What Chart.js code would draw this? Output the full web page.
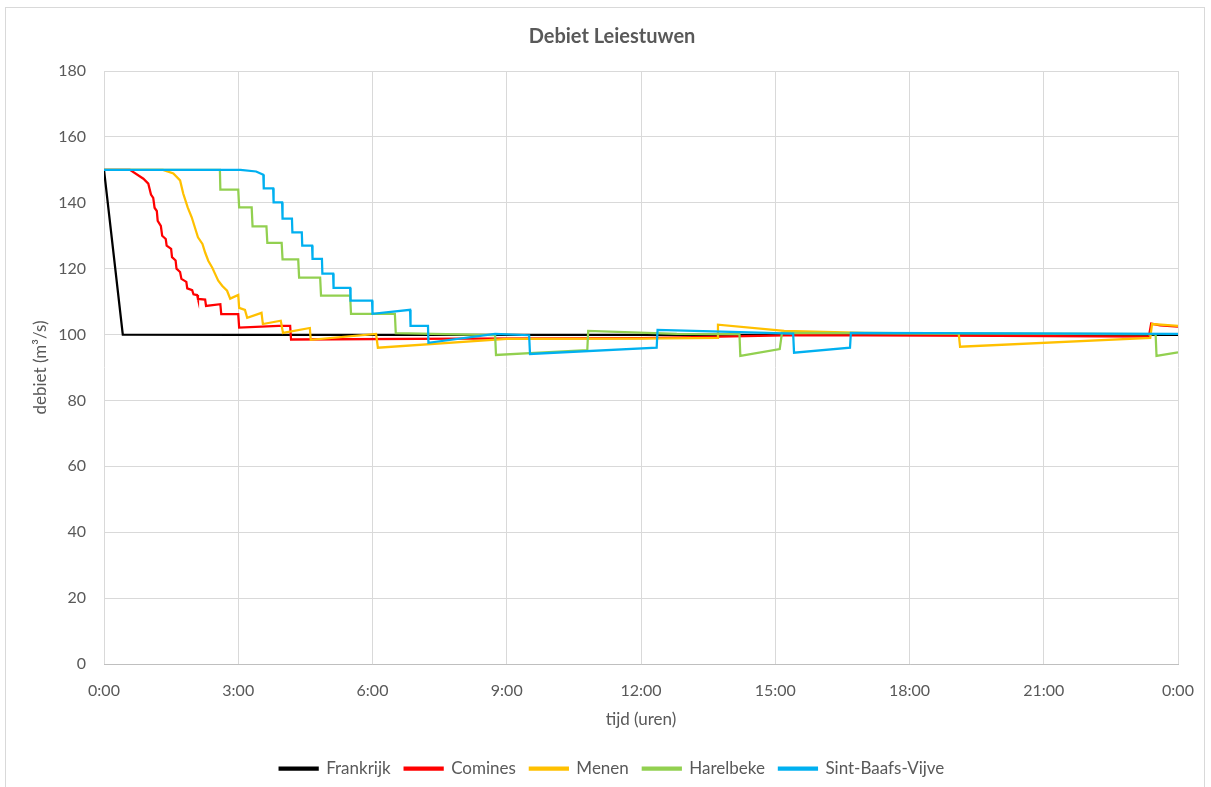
<!DOCTYPE html>
<html>
<head>
<meta charset="utf-8">
<script src="https://cdn.jsdelivr.net/npm/chart.js@4.4.0/dist/chart.umd.min.js"></script>
<style>
  html, body { margin: 0; padding: 0; background: #fff; }
  #kader { position: absolute; left: 5px; top: 7px; width: 1200px; height: 800px; border: 1px solid #d9d9d9; box-sizing: border-box; }
  #wrap { position: absolute; left: 0; top: 0; width: 1211px; height: 787px; }
</style>
</head>
<body>
<div id="kader"></div>
<div id="wrap"><canvas id="grafiek" width="1211" height="787"></canvas></div>
<script>
// tijd in uren, debiet in m3/s
var reeksen = ['Frankrijk', 'Comines', 'Menen', 'Harelbeke', 'Sint-Baafs-Vijve'];
var kleuren = ['#000000', '#ff0000', '#ffc000', '#92d050', '#00b0f0'];

var frankrijkTijd = [0, 0.42, 3, 9, 24];
var frankrijkDebiet = [150, 100, 99.9, 99.9, 99.9];

var cominesTijd = [0, 0.58, 0.88, 0.99, 1.05, 1.1, 1.13, 1.18, 1.2, 1.27, 1.3, 1.38, 1.4, 1.5, 1.52, 1.6, 1.62, 1.7, 1.73, 1.84, 1.86, 1.97, 2.0, 2.08, 2.1, 2.26, 2.28, 2.6, 2.62, 3.0, 3.02, 3.9, 4.16, 4.18, 8, 12, 15.5, 20, 23.35, 23.4, 23.6, 24];
var cominesDebiet = [150, 150, 147.3, 145.8, 142.5, 141.5, 138.5, 137.5, 134.5, 133, 130, 129, 127, 126, 123.5, 122.5, 120, 119, 116.9, 116, 114, 113.5, 112.2, 112, 110.8, 110.6, 108.7, 109.2, 106.2, 106.2, 102.1, 102.6, 102.6, 98.5, 98.8, 98.9, 99.8, 99.6, 99.4, 103.3, 102.8, 102.4];

var menenTijd = [0, 1.32, 1.55, 1.7, 1.77, 1.87, 1.96, 2.1, 2.2, 2.26, 2.33, 2.42, 2.48, 2.55, 2.64, 2.75, 2.82, 3.0, 3.02, 3.15, 3.2, 3.52, 3.55, 3.95, 4.0, 4.6, 4.62, 6.08, 6.12, 9, 12, 13.7, 13.72, 15.2, 17, 19.1, 19.13, 23.38, 23.42, 24];
var menenDebiet = [150, 150, 148.9, 146.8, 142.8, 138.6, 135.6, 129.5, 127.5, 124.9, 122.4, 120.3, 118.5, 116.4, 114.8, 113.3, 110.9, 112, 108.1, 107.5, 105.1, 106.6, 103.2, 104.2, 100.5, 102, 98.4, 100.2, 96, 98.7, 98.8, 99, 103, 101.1, 100.5, 100.3, 96.3, 99, 103.2, 102.6];

var harelbekeTijd = [0, 2.59, 2.6, 3.0, 3.02, 3.3, 3.32, 3.63, 3.65, 3.97, 3.99, 4.34, 4.36, 4.83, 4.85, 5.5, 5.52, 6.5, 6.52, 8.74, 8.76, 10.8, 10.82, 12.8, 14.2, 14.22, 15.1, 15.15, 23.5, 23.52, 24];
var harelbekeDebiet = [150, 150, 144, 144, 138.6, 138.6, 132.8, 132.8, 127.8, 127.8, 122.8, 122.8, 117.3, 117.3, 111.8, 111.8, 106.3, 106.3, 100.4, 99.8, 93.8, 95.3, 101.1, 100.2, 100.1, 93.5, 95.6, 100.5, 100.1, 93.5, 94.6];

var sintBaafsTijd = [0, 3.05, 3.4, 3.56, 3.57, 3.78, 3.79, 3.98, 3.99, 4.2, 4.21, 4.42, 4.43, 4.65, 4.66, 4.87, 4.88, 5.12, 5.13, 5.5, 5.51, 5.99, 6.0, 6.84, 6.85, 7.24, 7.25, 8.74, 9.5, 9.52, 12.35, 12.37, 14, 15.4, 15.42, 16.67, 16.69, 24];
var sintBaafsDebiet = [150, 150, 149.5, 148.5, 144.4, 144.4, 140.1, 140.1, 135.2, 135.2, 131, 131, 127, 127, 123, 123, 118.5, 118.5, 114.2, 114.2, 110.3, 110.3, 106.3, 107.5, 102.6, 102.6, 97.5, 100.2, 99.8, 94.1, 96, 101.4, 100.8, 100.3, 94.5, 96, 100.5, 100.2];

var xTicks = [0, 3, 6, 9, 12, 15, 18, 21, 24];

var tijden = [frankrijkTijd, cominesTijd, menenTijd, harelbekeTijd, sintBaafsTijd];
var debieten = [frankrijkDebiet, cominesDebiet, menenDebiet, harelbekeDebiet, sintBaafsDebiet];

var grijs = '#595959';
var font = 'Lato, "Open Sans", sans-serif';

var datasets = reeksen.map(function (naam, i) {
    return {
        label: naam,
        data: tijden[i].map(function (t, j) { return { x: t, y: debieten[i][j] }; }),
        borderColor: kleuren[i],
        backgroundColor: kleuren[i],
        borderWidth: 2.25,
        pointRadius: 0,
        tension: 0,
        fill: false,
        order: reeksen.length - i // laatste reeks bovenop, zoals in Excel
    };
});

var ctx = document.getElementById('grafiek').getContext('2d');
var grafiek = new Chart(ctx, {
    type: 'line',
    data: { datasets: datasets },
    options: {
        responsive: false,
        animation: false,
        layout: { padding: { left: 46, right: 33, top: 0, bottom: 0 } },
        plugins: {
            title: {
                display: true,
                text: 'Debiet Leiestuwen',
                color: grijs,
                font: { family: font, size: 20, weight: 'bold' },
                padding: { top: 25, bottom: 22 }
            },
            legend: {
                position: 'bottom',
                labels: {
                    color: grijs,
                    font: { family: font, size: 17 },
                    boxWidth: 38,
                    boxHeight: 2,
                    padding: 14,
                    sort: function (a, b) { return a.datasetIndex - b.datasetIndex; }
                }
            },
            tooltip: { enabled: false }
        },
        scales: {
            x: {
                type: 'linear',
                min: 0,
                max: 24,
                afterBuildTicks: function (scale) {
                    scale.ticks = xTicks.map(function (v) { return { value: v }; });
                },
                ticks: {
                    color: grijs,
                    font: { family: font, size: 16 },
                    padding: 17,
                    maxRotation: 0,
                    callback: function (v) { return (v % 24) + ':00'; }
                },
                grid: { color: '#d9d9d9', drawTicks: false },
                border: { color: '#bfbfbf' },
                title: {
                    display: true,
                    text: 'tijd (uren)',
                    color: grijs,
                    font: { family: font, size: 17 },
                    padding: { top: 0, bottom: 16 }
                },
                afterFit: function (scale) { scale.height = 82; }
            },
            y: {
                min: 0,
                max: 180,
                ticks: {
                    stepSize: 20,
                    color: grijs,
                    font: { family: font, size: 16 },
                    padding: 18
                },
                grid: { color: '#d9d9d9', drawTicks: false },
                border: { display: false },
                title: {
                    display: true,
                    text: 'debiet (m³/s)',
                    color: grijs,
                    font: { family: font, size: 17 },
                    padding: { top: -16, bottom: 0 }
                },
                afterFit: function (scale) { scale.width = 58; }
            }
        }
    }
});
</script>
</body>
</html>
